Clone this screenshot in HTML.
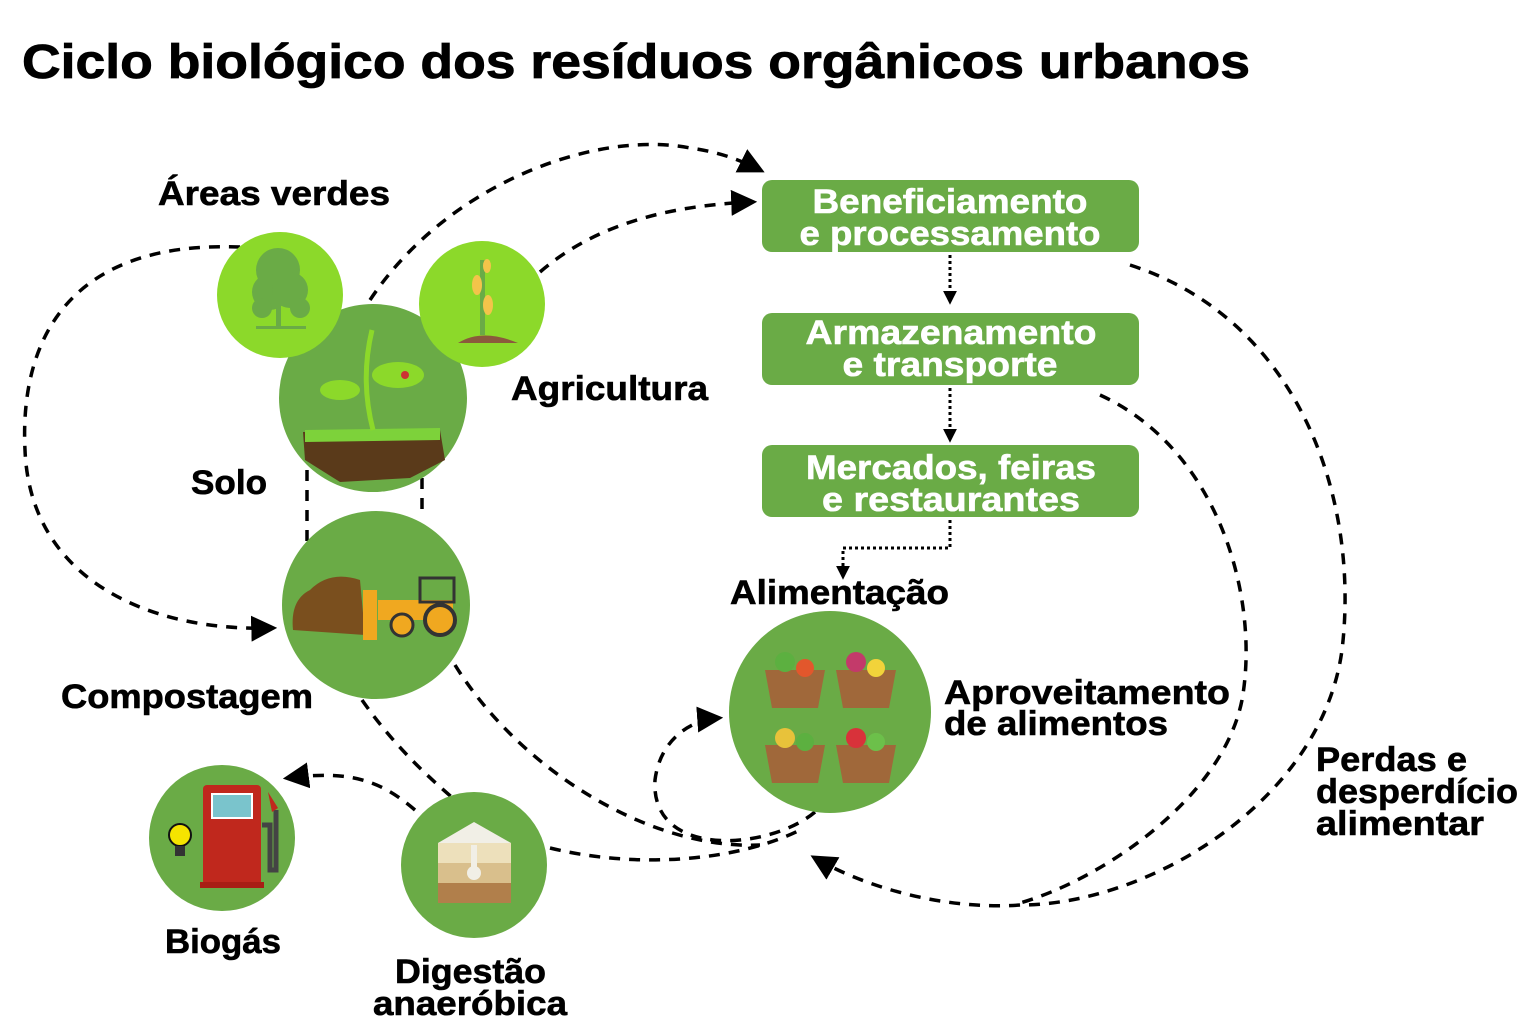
<!DOCTYPE html>
<html><head><meta charset="utf-8"><style>
html,body{margin:0;padding:0;background:#fff;}
svg{display:block;}
text{font-family:"Liberation Sans",sans-serif;font-weight:bold;}
</style></head><body>
<svg width="1536" height="1028" viewBox="0 0 1536 1028" xmlns="http://www.w3.org/2000/svg">
<defs>
<marker id="ah" viewBox="0 0 10 10" refX="8" refY="5" markerWidth="14" markerHeight="14" markerUnits="userSpaceOnUse" orient="auto"><path d="M0,0 L10,5 L0,10z" fill="#000"/></marker>
<marker id="ab" viewBox="0 0 10 10" refX="8" refY="5" markerWidth="26" markerHeight="26" markerUnits="userSpaceOnUse" orient="auto"><path d="M0,0 L10,5 L0,10z" fill="#000"/></marker>
</defs>
<text x="22" y="78" font-size="48" textLength="1228" lengthAdjust="spacingAndGlyphs" stroke="#000" stroke-width="0.8">Ciclo biológico dos resíduos orgânicos urbanos</text>

<g fill="none" stroke="#000" stroke-width="3.5" stroke-dasharray="11,9">
<path d="M370,300 C450,180 600,130 690,148 C720,152 740,160 760,170" marker-end="url(#ab)"/>
<path d="M540,272 C600,220 680,205 752,202" marker-end="url(#ab)"/>
<path d="M240,247 C60,240 20,350 25,450 C30,580 150,632 272,628" marker-end="url(#ab)"/>
<path d="M307,470 L307,545"/>
<path d="M422,478 L422,515"/>
<path d="M1130,265 C1300,320 1360,500 1342,650 C1322,800 1150,905 1020,905"/>
<path d="M1100,395 C1220,450 1260,600 1242,700 C1222,800 1100,880 1020,903"/>
<path d="M1020,905 C950,910 870,890 815,858" marker-end="url(#ab)"/>
<path d="M455,665 C520,770 650,850 760,845"/>
<path d="M815,812 C770,850 650,860 655,780 C660,740 690,720 718,718" marker-end="url(#ab)"/>
<path d="M362,700 C390,740 420,770 455,800"/>
<path d="M550,848 C640,870 740,860 800,830"/>
<path d="M415,810 C380,780 350,770 288,778" marker-end="url(#ab)"/>
</g>
<g fill="none" stroke="#000" stroke-width="3" stroke-dasharray="3,3">
<path d="M950,255 L950,302" marker-end="url(#ah)"/>
<path d="M950,388 L950,440" marker-end="url(#ah)"/>
<path d="M950,520 L950,548 L843,548 L843,577" marker-end="url(#ah)"/>
</g>

<g fill="#6aab46">
<rect x="762" y="180" width="377" height="72" rx="10"/>
<rect x="762" y="313" width="377" height="72" rx="10"/>
<rect x="762" y="445" width="377" height="72" rx="10"/>
</g>
<g fill="#fff" stroke="#fff" stroke-width="0.6" font-size="34" text-anchor="middle">
<text x="950" y="213" textLength="275" lengthAdjust="spacingAndGlyphs">Beneficiamento</text>
<text x="950" y="245" textLength="301" lengthAdjust="spacingAndGlyphs">e processamento</text>
<text x="951" y="344" textLength="291" lengthAdjust="spacingAndGlyphs">Armazenamento</text>
<text x="950" y="376" textLength="215" lengthAdjust="spacingAndGlyphs">e transporte</text>
<text x="951" y="479" textLength="290" lengthAdjust="spacingAndGlyphs">Mercados, feiras</text>
<text x="951" y="511" textLength="258" lengthAdjust="spacingAndGlyphs">e restaurantes</text>
</g>

<circle cx="373" cy="398" r="94" fill="#6aab46"/>
<circle cx="280" cy="295" r="63" fill="#8cd92a"/>
<circle cx="482" cy="304" r="63" fill="#8cd92a"/>
<circle cx="376" cy="605" r="94" fill="#6aab46"/>
<circle cx="222" cy="838" r="73" fill="#6aab46"/>
<circle cx="474" cy="865" r="73" fill="#6aab46"/>
<circle cx="830" cy="712" r="101" fill="#6aab46"/>

<g fill="#6aab46">
<circle cx="278" cy="270" r="22"/><circle cx="270" cy="292" r="18"/><circle cx="290" cy="290" r="18"/>
<circle cx="262" cy="308" r="10"/><circle cx="300" cy="308" r="10"/>
<rect x="276" y="290" width="5" height="38"/><rect x="256" y="326" width="50" height="3"/>
</g>
<rect x="480" y="260" width="5" height="75" fill="#6aab46"/>
<ellipse cx="477" cy="285" rx="5" ry="10" fill="#f3c44a"/><ellipse cx="488" cy="305" rx="5" ry="10" fill="#f3c44a"/>
<ellipse cx="487" cy="266" rx="4" ry="7" fill="#f3c44a"/>
<path d="M458,343 Q482,328 518,343z" fill="#8b5a3c"/>
<path d="M303,432 L440,430 L445,460 L410,478 L340,482 L305,460z" fill="#5a3a1a"/>
<path d="M305,430 L440,428 L440,440 L305,442z" fill="#7dd23a"/>
<path d="M373,430 Q360,380 372,330" stroke="#8cd92a" stroke-width="5" fill="none"/>
<ellipse cx="398" cy="375" rx="26" ry="13" fill="#8cd92a"/><ellipse cx="340" cy="390" rx="20" ry="10" fill="#8cd92a"/>
<circle cx="405" cy="375" r="4" fill="#c33"/>
<path d="M293,630 Q290,600 310,590 Q330,570 360,580 L365,635z" fill="#7a4f1e"/>
<rect x="363" y="590" width="14" height="50" fill="#f0a820"/>
<rect x="378" y="600" width="75" height="20" fill="#f0a820"/>
<rect x="420" y="578" width="34" height="24" fill="none" stroke="#333" stroke-width="3"/>
<circle cx="402" cy="625" r="11" fill="#f0a820" stroke="#333" stroke-width="3"/>
<circle cx="440" cy="620" r="15" fill="#f0a820" stroke="#333" stroke-width="4"/>
<rect x="203" y="785" width="58" height="100" rx="4" fill="#c0281d"/>
<rect x="212" y="794" width="40" height="24" fill="#7ac4cc" stroke="#fff" stroke-width="2"/>
<rect x="200" y="882" width="64" height="6" fill="#a81e15"/>
<path d="M262,825 L270,825 L270,870 L276,870 L276,810" fill="none" stroke="#444" stroke-width="5"/>
<path d="M268,792 L278,808 L272,812z" fill="#c0281d"/>
<circle cx="180" cy="835" r="11" fill="#f5e400" stroke="#111" stroke-width="2"/>
<rect x="175" y="846" width="10" height="10" fill="#333"/>
<path d="M438,843 L474,822 L511,843z" fill="#f1efe6"/>
<rect x="438" y="843" width="73" height="20" fill="#ede0bb"/>
<rect x="438" y="863" width="73" height="20" fill="#d9bf8c"/>
<rect x="438" y="883" width="73" height="20" fill="#b17f4b"/>
<rect x="471" y="845" width="6" height="25" fill="#f1efe6"/><circle cx="474" cy="873" r="7" fill="#f1efe6"/>
<g fill="#a0683a">
<path d="M765,670 L825,670 L818,708 L772,708z"/><path d="M836,670 L896,670 L889,708 L843,708z"/>
<path d="M765,745 L825,745 L818,783 L772,783z"/><path d="M836,745 L896,745 L889,783 L843,783z"/>
</g>
<circle cx="785" cy="662" r="10" fill="#5cb040"/><circle cx="805" cy="668" r="9" fill="#e2572c"/>
<circle cx="856" cy="662" r="10" fill="#c33a6a"/><circle cx="876" cy="668" r="9" fill="#f2d33a"/>
<circle cx="785" cy="738" r="10" fill="#e8c23a"/><circle cx="805" cy="742" r="9" fill="#5cb040"/>
<circle cx="856" cy="738" r="10" fill="#d8323a"/><circle cx="876" cy="742" r="9" fill="#6cc04a"/>

<g font-size="34" fill="#000" stroke="#000" stroke-width="0.6">
<text x="158" y="205" textLength="232" lengthAdjust="spacingAndGlyphs">Áreas verdes</text>
<text x="511" y="400" textLength="197" lengthAdjust="spacingAndGlyphs">Agricultura</text>
<text x="191" y="494" textLength="76" lengthAdjust="spacingAndGlyphs">Solo</text>
<text x="61" y="708" textLength="252" lengthAdjust="spacingAndGlyphs">Compostagem</text>
<text x="165" y="953" textLength="116" lengthAdjust="spacingAndGlyphs">Biogás</text>
<text x="395" y="983" textLength="151" lengthAdjust="spacingAndGlyphs">Digestão</text>
<text x="373" y="1015" textLength="194" lengthAdjust="spacingAndGlyphs">anaeróbica</text>
<text x="730" y="604" textLength="219" lengthAdjust="spacingAndGlyphs">Alimentação</text>
<text x="944" y="704" textLength="286" lengthAdjust="spacingAndGlyphs">Aproveitamento</text>
<text x="944" y="735" textLength="224" lengthAdjust="spacingAndGlyphs">de alimentos</text>
<text x="1316" y="771" textLength="151" lengthAdjust="spacingAndGlyphs">Perdas e</text>
<text x="1316" y="803" textLength="202" lengthAdjust="spacingAndGlyphs">desperdício</text>
<text x="1316" y="835" textLength="168" lengthAdjust="spacingAndGlyphs">alimentar</text>
</g>
</svg>
</body></html>
